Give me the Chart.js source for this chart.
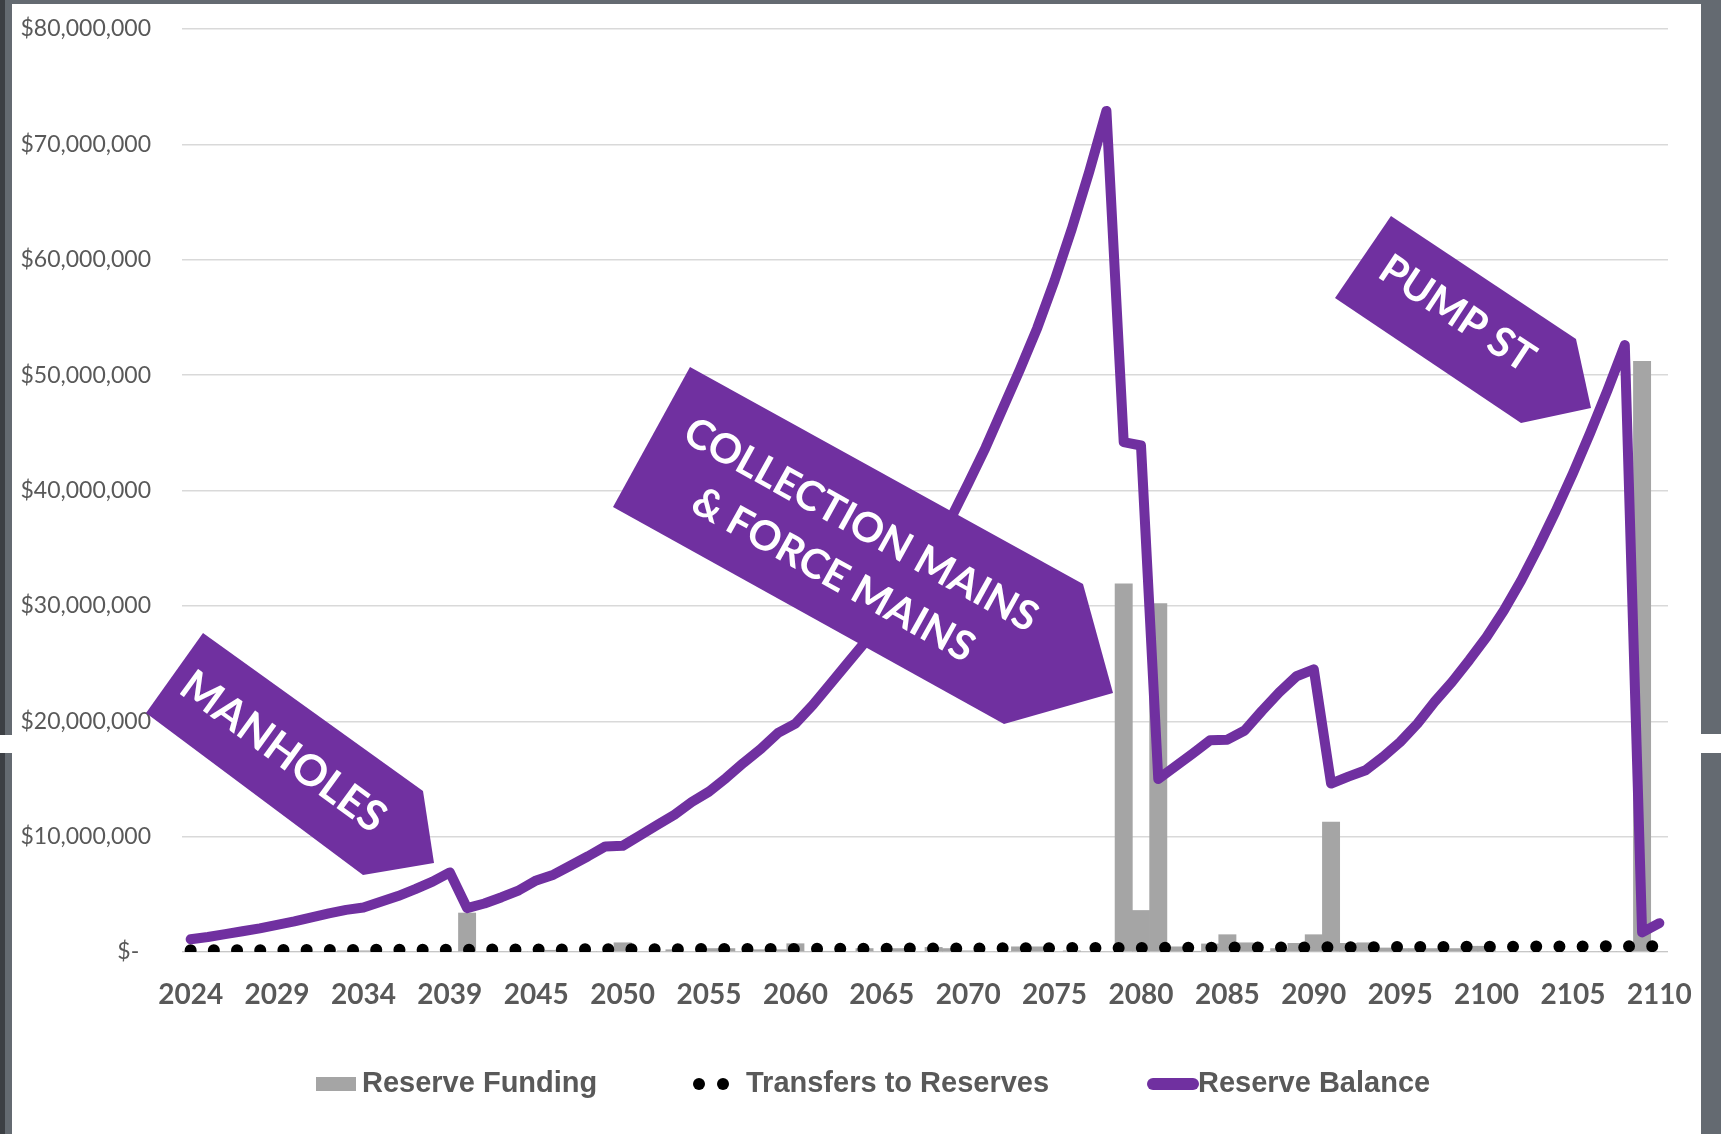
<!DOCTYPE html>
<html>
<head>
<meta charset="utf-8">
<script src="https://cdn.jsdelivr.net/npm/chart.js@4.4.1/dist/chart.umd.min.js"></script>
<style>
  html, body { margin: 0; padding: 0; background: #fff; }
  #wrap { position: relative; width: 1721px; height: 1134px; overflow: hidden; background: #fff; }
  #myChart { position: absolute; left: 0; top: 0; }
  .edge { position: absolute; }
</style>
</head>
<body>
<div id="wrap">
  <canvas id="myChart" width="1721" height="1134"></canvas>
  <div class="edge" style="left:0;top:0;width:1721px;height:4px;background:#646a71"></div>
  <div class="edge" style="left:0;top:0;width:5px;height:1134px;background:#3c3f44"></div>
  <div class="edge" style="left:5px;top:0;width:7px;height:1134px;background:#646a71"></div>
  <div class="edge" style="left:1701px;top:0;width:20px;height:1134px;background:#646a71"></div>
  <div class="edge" style="left:0;top:735px;width:12px;height:18px;background:#fff"></div>
  <div class="edge" style="left:1701px;top:734px;width:20px;height:19px;background:#fff"></div>
</div>
<script>
// values in millions of dollars
const years = [
    '2024', '2025', '2026', '2027', '2028', '2029', '2030', '2031', '2032', '2033',
    '2034', '2035', '2036', '2037', '2038', '2039', '2041', '2042', '2043', '2044',
    '2045', '2046', '2047', '2048', '2049', '2050', '2051', '2052', '2053', '2054',
    '2055', '2056', '2057', '2058', '2059', '2060', '2061', '2062', '2063', '2064',
    '2065', '2066', '2067', '2068', '2069', '2070', '2071', '2072', '2073', '2074',
    '2075', '2076', '2077', '2078', '2079', '2080', '2081', '2082', '2083', '2084',
    '2085', '2086', '2087', '2088', '2089', '2090', '2091', '2092', '2093', '2094',
    '2095', '2096', '2097', '2098', '2099', '2100', '2101', '2102', '2103', '2104',
    '2105', '2106', '2107', '2108', '2109', '2110'
]

const tickYears = ['2024', '2029', '2034', '2039', '2045', '2050', '2055', '2060', '2065',
    '2070', '2075', '2080', '2085', '2090', '2095', '2100', '2105', '2110']

const reserveFunding = [
    0, 0, 0, 0, 0, 0, 0, 0, 0, 0.1,
    0.1, 0, 0, 0, 0, 0, 3.38, 0, 0, 0,
    0, 0.15, 0, 0, 0, 0.8, 0, 0, 0.2, 0,
    0.3, 0.3, 0, 0.2, 0.2, 0.72, 0, 0.05, 0, 0.3,
    0, 0.3, 0, 0.4, 0.3, 0.1, 0, 0, 0.45, 0.45,
    0, 0.1, 0, 0, 31.9, 3.6, 30.2, 0.45, 0.05, 0.7,
    1.5, 0.8, 0, 0.3, 0.75, 1.5, 11.27, 0.75, 0.8, 0.35,
    0.3, 0.3, 0.3, 0.3, 0.5, 0.5, 0, 0, 0, 0,
    0, 0, 0, 0, 51.2, 0
]

const transfers = [
    0.15, 0.15, 0.16, 0.16, 0.16, 0.17, 0.17, 0.17, 0.18, 0.18,
    0.18, 0.19, 0.19, 0.19, 0.2, 0.2, 0.2, 0.21, 0.21, 0.21,
    0.22, 0.22, 0.22, 0.23, 0.23, 0.23, 0.24, 0.24, 0.24, 0.25,
    0.25, 0.25, 0.26, 0.26, 0.27, 0.27, 0.27, 0.28, 0.28, 0.29,
    0.29, 0.29, 0.3, 0.3, 0.31, 0.31, 0.31, 0.32, 0.32, 0.33,
    0.33, 0.34, 0.34, 0.35, 0.35, 0.35, 0.36, 0.36, 0.37, 0.37,
    0.38, 0.38, 0.39, 0.39, 0.4, 0.4, 0.41, 0.41, 0.42, 0.42,
    0.43, 0.43, 0.44, 0.44, 0.45, 0.45, 0.46, 0.46, 0.47, 0.47,
    0.48, 0.48, 0.49, 0.5, 0.5, 0.51
]

const reserveBalance = [
    1.1, 1.3, 1.55, 1.8, 2.05, 2.35, 2.65, 3.0, 3.35, 3.65,
    3.85, 4.35, 4.85, 5.45, 6.1, 6.9, 3.8, 4.2, 4.75, 5.35,
    6.2, 6.7, 7.5, 8.3, 9.15, 9.2, 10.1, 11.0, 11.9, 13.0,
    13.9, 15.1, 16.4, 17.6, 19.0, 19.8, 21.4, 23.2, 25.0, 26.8,
    28.6, 30.8, 32.9, 35.1, 37.6, 40.6, 43.7, 47.1, 50.5, 54.1,
    58.2, 62.7, 67.6, 72.9, 44.2, 43.9, 15.0, 16.1, 17.2, 18.35,
    18.4, 19.2, 20.9, 22.5, 23.9, 24.5, 14.6, 15.2, 15.75, 16.9,
    18.2, 19.8, 21.7, 23.4, 25.3, 27.3, 29.6, 32.2, 35.1, 38.2,
    41.5, 45.0, 48.7, 52.6, 1.7, 2.5
]

const callouts = [
    { lines: ['MANHOLES'], pts: [[203, 633], [423, 791], [434, 863], [363, 875], [146, 713]],
        cx: 283, cy: 752, angle: 36, size: 43, lead: 0 },
    { lines: ['COLLECTION MAINS', '& FORCE MAINS'], pts: [[690, 367], [1083, 584], [1113, 693], [1004, 724], [613, 507]],
        cx: 847, cy: 550, angle: 29, size: 41, lead: 57 },
    { lines: ['PUMP ST'], pts: [[1391, 216], [1576, 339], [1591, 408], [1521, 423], [1335, 298]],
        cx: 1457, cy: 314, angle: 33.5, size: 41, lead: 0 }
]

function toDollars(list) {
    return list.map(v => v * 1000000)
}

function formatDollars(value) {
    if (value === 0) return '$-  '
    return '$' + value.toString().replace(/\B(?=(\d{3})+(?!\d))/g, ',')
}

const calloutPlugin = {
    id: 'callouts',
    afterDatasetsDraw(chart) {
        const ctx = chart.ctx
        ctx.save()
        callouts.forEach(c => {
            ctx.fillStyle = '#7030a0'
            ctx.beginPath()
            c.pts.forEach((p, i) => i === 0 ? ctx.moveTo(p[0], p[1]) : ctx.lineTo(p[0], p[1]))
            ctx.closePath()
            ctx.fill()

            ctx.save()
            ctx.translate(c.cx, c.cy)
            ctx.rotate(c.angle * Math.PI / 180)
            ctx.fillStyle = '#ffffff'
            ctx.font = 'bold ' + c.size + 'px Lato, "Open Sans", sans-serif'
            ctx.textAlign = 'center'
            ctx.textBaseline = 'middle'
            const n = c.lines.length
            c.lines.forEach((t, i) => {
                ctx.fillText(t, 0, (i - (n - 1) / 2) * c.lead)
            })
            ctx.restore()
        })
        ctx.restore()
    }
}

const legendPlugin = {
    id: 'bottomLegend',
    afterDraw(chart) {
        const ctx = chart.ctx
        const sets = chart.data.datasets
        const funding = sets.find(d => d.type === 'bar')
        const transfer = sets.find(d => d.borderDash)
        const balance = sets.find(d => d.type === 'line' && !d.borderDash)
        const y = 1084
        ctx.save()
        ctx.font = 'bold 29px "Liberation Sans", Arial, sans-serif'
        ctx.textBaseline = 'middle'

        ctx.fillStyle = funding.backgroundColor
        ctx.fillRect(316, y - 7, 40, 14)
        ctx.fillStyle = '#595959'
        ctx.fillText(funding.label, 362, y)

        ctx.fillStyle = transfer.borderColor
        ;[699, 723].forEach(x => {
            ctx.beginPath()
            ctx.arc(x, y, 6, 0, Math.PI * 2)
            ctx.fill()
        })
        ctx.fillStyle = '#595959'
        ctx.fillText(transfer.label, 746, y)

        ctx.strokeStyle = balance.borderColor
        ctx.lineWidth = 12
        ctx.lineCap = 'round'
        ctx.beginPath()
        ctx.moveTo(1153, y)
        ctx.lineTo(1193, y)
        ctx.stroke()
        ctx.fillStyle = '#595959'
        ctx.fillText(balance.label, 1198, y)
        ctx.restore()
    }
}

function buildChart() {
    const ctx = document.getElementById('myChart')
    new Chart(ctx, {
        type: 'bar',
        data: {
            labels: years,
            datasets: [
                {
                    type: 'line',
                    label: 'Reserve Balance',
                    data: toDollars(reserveBalance),
                    borderColor: '#7030a0',
                    borderWidth: 10,
                    borderJoinStyle: 'round',
                    borderCapStyle: 'round',
                    pointRadius: 0,
                    tension: 0,
                    order: 1
                },
                {
                    type: 'line',
                    label: 'Transfers to Reserves',
                    data: toDollars(transfers),
                    borderColor: '#000000',
                    borderWidth: 12,
                    borderDash: [0, 23.2],
                    borderCapStyle: 'round',
                    pointRadius: 0,
                    tension: 0,
                    order: 2
                },
                {
                    type: 'bar',
                    label: 'Reserve Funding',
                    data: toDollars(reserveFunding),
                    backgroundColor: '#a5a5a5',
                    barPercentage: 1,
                    categoryPercentage: 1,
                    order: 3
                }
            ]
        },
        options: {
            responsive: false,
            animation: false,
            devicePixelRatio: 1,
            layout: { padding: { left: 0, right: 53, top: 29, bottom: 0 } },
            plugins: {
                legend: { display: false },
                tooltip: { enabled: false }
            },
            scales: {
                x: {
                    grid: { display: false },
                    border: { display: false },
                    ticks: {
                        autoSkip: false,
                        maxRotation: 0,
                        minRotation: 0,
                        padding: 18,
                        color: '#595959',
                        font: { family: 'Lato', size: 28, weight: 'bold' },
                        callback: function (value, index) {
                            const label = this.getLabelForValue(value)
                            return tickYears.includes(label) ? label : ''
                        }
                    },
                    afterFit: function (scale) { scale.height = 182 }
                },
                y: {
                    min: 0,
                    max: 80000000,
                    border: { display: false },
                    grid: { color: '#d9d9d9', lineWidth: 1.5, drawTicks: false },
                    ticks: {
                        stepSize: 10000000,
                        padding: 31,
                        color: '#595959',
                        font: { family: 'Lato', size: 23 },
                        callback: value => formatDollars(value)
                    },
                    afterFit: function (scale) {
                        scale.width = 182
                        scale.paddingTop = 0
                        scale.paddingBottom = 0
                    }
                }
            }
        },
        plugins: [calloutPlugin, legendPlugin]
    })
}

document.addEventListener('DOMContentLoaded', function () {
    buildChart()
})
</script>
</body>
</html>
